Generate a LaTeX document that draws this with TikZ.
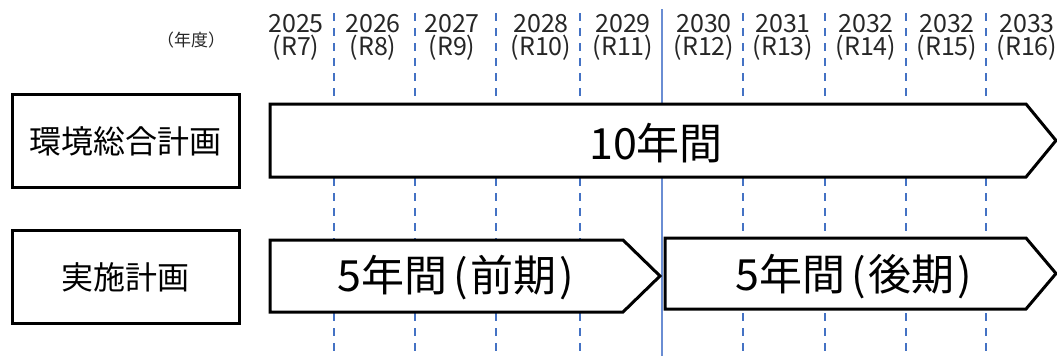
\documentclass[tikz,border=0pt]{standalone}
\usepackage{fontspec}
\setmainfont{Noto Sans CJK JP}
\definecolor{gridblue}{HTML}{4472C4}
\definecolor{solidblue}{HTML}{6A8DD3}
\begin{document}
\begin{tikzpicture}[x=1pt,y=-1pt,
  yearlbl/.style={inner sep=0pt,font=\fontsize{25}{27}\selectfont,text=black!85},
  gridline/.style={gridblue,line width=1.8pt,dash pattern=on 8pt off 7pt},
  labelbox/.style={draw=black,line width=3pt,fill=white,minimum width=227pt,minimum height=93pt,inner sep=0pt,font=\fontsize{32}{34}\selectfont},
  bar/.style={draw=black,line width=3pt,fill=white,line join=miter},
  bartext/.style={inner sep=0pt,font=\fontsize{43}{46}\selectfont}]
\useasboundingbox (0,0) rectangle (1057,356);
% grid lines
\foreach \x in {334,415,496,580,743,825,906,986}
  \draw[gridline] (\x,13) -- (\x,356);
\draw[solidblue,line width=1.4pt] (662,9) -- (662,356);
% header
\node[inner sep=0pt,font=\fontsize{17}{19}\selectfont,text=black!85] (unit) at (191,40) {（年度）};
\foreach \cx/\yr/\rr [count=\i] in {296/2025/R7,373/2026/R8,452/2027/R9,541/2028/R10,623/2029/R11,704/2030/R12,783/2031/R13,866/2032/R14,947/2032/R15,1027/2033/R16}{
  \node[yearlbl] (y\i) at (\cx,23.5) {\yr};
  \node[yearlbl] (r\i) at (\cx,48) {(\rr)};
}
% left labels
\node[labelbox] (plan) at (125.5,141) {環境総合計画};
\node[labelbox] (impl) at (125.5,277) {実施計画};
% bars
\draw[bar] (270,104) -- (1026,104) -- (1056,140.5) -- (1026,177) -- (270,177) -- cycle;
\node[bartext] (ten) at (656,143) {10年間};
\draw[bar] (270,240) -- (623,240) -- (660,276) -- (623,312) -- (270,312) -- cycle;
\node[bartext] (first) at (456,278) {5年間\hspace{6pt}(\hspace{3pt}前期\hspace{3pt})};
\draw[bar] (665,238) -- (1026,238) -- (1056,273.5) -- (1026,309) -- (665,309) -- cycle;
\node[bartext] (second) at (854,277) {5年間\hspace{6pt}(\hspace{3pt}後期\hspace{3pt})};
\end{tikzpicture}
\end{document}
